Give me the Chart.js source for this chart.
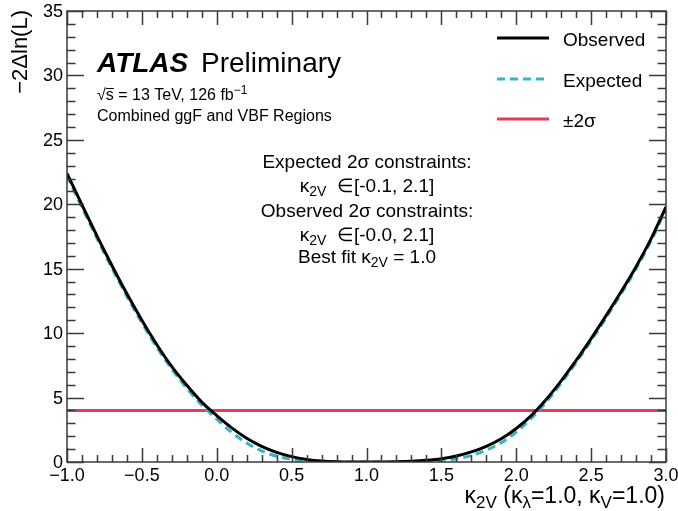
<!DOCTYPE html>
<html>
<head>
<meta charset="utf-8">
<script src="https://cdn.jsdelivr.net/npm/chart.js@4.4.1/dist/chart.umd.min.js"></script>
<style>
  html, body { margin: 0; padding: 0; background: #fff; }
</style>
</head>
<body>
<canvas id="scan" width="678" height="511"></canvas>
<script>
// kappa_2V scan points
const kappa2V = [-1.0, -0.9, -0.8, -0.7, -0.6, -0.5, -0.4, -0.3, -0.2, -0.1,
  0.0, 0.1, 0.2, 0.3, 0.4, 0.5, 0.6, 0.7, 0.8, 0.9,
  1.0, 1.1, 1.2, 1.3, 1.4, 1.5, 1.6, 1.7, 1.8, 1.9,
  2.0, 2.1, 2.2, 2.3, 2.4, 2.5, 2.6, 2.7, 2.8, 2.9, 3.0];

const observedNLL = [22.4, 19.95, 17.55, 15.25, 13.05, 11.0, 9.1, 7.4, 5.95, 4.65,
  3.6, 2.65, 1.85, 1.22, 0.75, 0.42, 0.2, 0.07, 0.015, 0.0,
  0.0, 0.0, 0.02, 0.06, 0.13, 0.25, 0.46, 0.78, 1.22, 1.8,
  2.6, 3.6, 4.85, 6.3, 7.88, 9.58, 11.36, 13.21, 15.16, 17.31, 19.8];

const expectedNLL = [22.2, 19.75, 17.35, 15.05, 12.85, 10.8, 8.9, 7.2, 5.72, 4.42,
  3.32, 2.3, 1.48, 0.86, 0.45, 0.2, 0.07, 0.02, 0.0, 0.0,
  0.0, 0.0, 0.0, 0.01, 0.04, 0.11, 0.25, 0.5, 0.92, 1.5,
  2.32, 3.38, 4.65, 6.12, 7.72, 9.42, 11.2, 13.05, 15.0, 17.15, 19.65];

const twoSigmaLevel = 4;
const xRange = [-1.0, 3.0];
const yRange = [0, 35];

const xTickValues = [-1.0, -0.5, 0.0, 0.5, 1.0, 1.5, 2.0, 2.5, 3.0];
const xTickLabels = ['\u22121.0', '\u22120.5', '0.0', '0.5', '1.0', '1.5', '2.0', '2.5', '3.0'];
const yTickValues = [0, 5, 10, 15, 20, 25, 30, 35];
const yTickLabels = ['0', '5', '10', '15', '20', '25', '30', '35'];

const FONT = "'Liberation Sans', Arial, Helvetica, sans-serif";
const CYAN = '#38b3c6';
const RED = '#e8395c';

// draws text made of pieces, some of them sub/superscript
function drawParts(ctx, parts, x, y, size, align) {
  const small = Math.round(size * 0.72);
  const widths = parts.map(p => {
    ctx.font = `${p.sub || p.sup ? small : size}px ${FONT}`;
    return ctx.measureText(p.t).width;
  });
  const total = widths.reduce((a, b) => a + b, 0);
  let cx = align === 'center' ? x - total / 2 : align === 'right' ? x - total : x;
  ctx.textAlign = 'left';
  ctx.textBaseline = 'alphabetic';
  parts.forEach((p, i) => {
    ctx.font = `${p.sub || p.sup ? small : size}px ${FONT}`;
    let dy = 0;
    if (p.sub) dy = size * 0.22;
    if (p.sup) dy = -size * 0.4;
    ctx.fillText(p.t, cx, y + dy);
    if (p.over) {
      ctx.beginPath();
      ctx.lineWidth = 1;
      ctx.moveTo(cx, y - size * 0.72);
      ctx.lineTo(cx + widths[i], y - size * 0.72);
      ctx.stroke();
    }
    cx += widths[i];
  });
}

const atlasDecor = {
  id: 'atlasDecor',
  afterDatasetsDraw(chart) {
    const { ctx, chartArea: a, scales: { x, y } } = chart;
    ctx.save();

    // frame and inward ticks (ROOT style)
    ctx.strokeStyle = '#3a3a3a';
    ctx.lineWidth = 1.5;
    ctx.strokeRect(a.left, a.top, a.right - a.left, a.bottom - a.top);
    ctx.beginPath();
    for (let i = -10; i <= 30; i++) {
      const px = Math.round(x.getPixelForValue(i / 10)) + 0.5;
      const len = i % 5 === 0 ? 14 : 7;
      ctx.moveTo(px, a.bottom); ctx.lineTo(px, a.bottom - len);
      ctx.moveTo(px, a.top); ctx.lineTo(px, a.top + len);
    }
    for (let i = 0; i <= 35; i++) {
      const py = Math.round(y.getPixelForValue(i)) + 0.5;
      const len = i % 5 === 0 ? 17 : 8.5;
      ctx.moveTo(a.left, py); ctx.lineTo(a.left + len, py);
      ctx.moveTo(a.right, py); ctx.lineTo(a.right - len, py);
    }
    ctx.stroke();

    // tick labels
    ctx.fillStyle = '#000';
    ctx.strokeStyle = '#000';
    ctx.font = `18px ${FONT}`;
    ctx.textAlign = 'center';
    ctx.textBaseline = 'alphabetic';
    xTickValues.forEach((v, i) => ctx.fillText(xTickLabels[i], x.getPixelForValue(v), 481));
    ctx.textAlign = 'right';
    ctx.textBaseline = 'middle';
    yTickValues.forEach((v, i) => ctx.fillText(yTickLabels[i], 63, y.getPixelForValue(v) + 1));

    // axis titles
    ctx.save();
    ctx.translate(21, 10);
    ctx.rotate(-Math.PI / 2);
    ctx.font = `22px ${FONT}`;
    ctx.textAlign = 'right';
    ctx.textBaseline = 'middle';
    ctx.fillText('\u22122\u0394ln(L)', 0, 0);
    ctx.restore();
    drawParts(ctx, [
      { t: '\u03ba' }, { t: '2V', sub: true }, { t: ' (\u03ba' }, { t: '\u03bb', sub: true },
      { t: '=1.0, \u03ba' }, { t: 'V', sub: true }, { t: '=1.0)' }
    ], 665, 503, 23, 'right');

    // ATLAS label
    ctx.textAlign = 'left';
    ctx.textBaseline = 'alphabetic';
    ctx.font = `italic bold 28px ${FONT}`;
    ctx.fillText('ATLAS', 97, 72);
    ctx.font = `28px ${FONT}`;
    ctx.fillText('Preliminary', 201, 72);
    drawParts(ctx, [
      { t: '\u221a' }, { t: 's', over: true }, { t: ' = 13 TeV, 126 fb' }, { t: '\u22121', sup: true }
    ], 97, 100, 16, 'left');
    ctx.font = `16px ${FONT}`;
    ctx.fillText('Combined ggF and VBF Regions', 97, 121);

    // constraint summary
    const cx = 367;
    ctx.font = `19px ${FONT}`;
    ctx.textAlign = 'center';
    ctx.fillText('Expected 2\u03c3 constraints:', cx, 168);
    drawParts(ctx, [{ t: '\u03ba' }, { t: '2V', sub: true }, { t: '  \u2208[-0.1, 2.1]' }], cx, 192, 19, 'center');
    ctx.font = `19px ${FONT}`;
    ctx.textAlign = 'center';
    ctx.fillText('Observed 2\u03c3 constraints:', cx, 217);
    drawParts(ctx, [{ t: '\u03ba' }, { t: '2V', sub: true }, { t: '  \u2208[-0.0, 2.1]' }], cx, 241, 19, 'center');
    drawParts(ctx, [{ t: 'Best fit \u03ba' }, { t: '2V', sub: true }, { t: ' = 1.0' }], cx, 263, 19, 'center');

    // legend
    const entries = [
      { label: 'Observed', color: '#000', dash: [], y: 38 },
      { label: 'Expected', color: CYAN, dash: [8, 5], y: 79 },
      { label: '\u00b12\u03c3', color: RED, dash: [], y: 119 }
    ];
    entries.forEach(e => {
      ctx.beginPath();
      ctx.strokeStyle = e.color;
      ctx.lineWidth = 3;
      ctx.setLineDash(e.dash);
      ctx.moveTo(497, e.y); ctx.lineTo(549, e.y);
      ctx.stroke();
      ctx.setLineDash([]);
      ctx.font = `19px ${FONT}`;
      ctx.textAlign = 'left';
      ctx.textBaseline = 'middle';
      ctx.fillText(e.label, 563, e.y + 3);
    });
    ctx.restore();
  }
};

const toPoints = vals => kappa2V.map((k, i) => ({ x: k, y: vals[i] }));

new Chart(document.getElementById('scan').getContext('2d'), {
  type: 'line',
  data: {
    datasets: [
      {
        label: 'Observed',
        data: toPoints(observedNLL),
        borderColor: '#000',
        borderWidth: 3,
        pointRadius: 0,
        cubicInterpolationMode: 'monotone',
        order: 1
      },
      {
        label: 'Expected',
        data: toPoints(expectedNLL),
        borderColor: CYAN,
        borderWidth: 3,
        borderDash: [8, 5],
        pointRadius: 0,
        cubicInterpolationMode: 'monotone',
        order: 2
      },
      {
        label: '\u00b12\u03c3',
        data: xRange.map(k => ({ x: k, y: twoSigmaLevel })),
        borderColor: RED,
        borderWidth: 3,
        pointRadius: 0,
        order: 3
      }
    ]
  },
  options: {
    responsive: false,
    animation: false,
    devicePixelRatio: 1,
    layout: { padding: { left: 67, right: 12, top: 11, bottom: 49 } },
    scales: {
      x: { type: 'linear', min: xRange[0], max: xRange[1], display: false },
      y: { type: 'linear', min: yRange[0], max: yRange[1], display: false }
    },
    plugins: {
      legend: { display: false },
      tooltip: { enabled: false }
    }
  },
  plugins: [atlasDecor]
});
</script>
</body>
</html>
